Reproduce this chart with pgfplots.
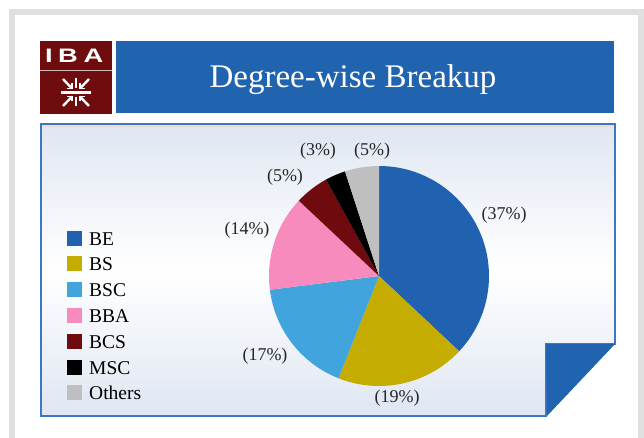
\documentclass[border=0pt]{standalone}
\usepackage{fontspec}
\setmainfont{Liberation Serif}
\newfontfamily\logofont{Liberation Sans}
\usepackage{graphicx}
\usepackage{pgfplots}
\usepackage{pgfplotstable}
\pgfplotsset{compat=1.18}
\definecolor{pie0}{HTML}{2062AF}
\definecolor{pie1}{HTML}{C4AD00}
\definecolor{pie2}{HTML}{41A4DC}
\definecolor{pie3}{HTML}{F78BBE}
\definecolor{pie4}{HTML}{6F0A0E}
\definecolor{pie5}{HTML}{000000}
\definecolor{pie6}{HTML}{BFBFBF}
\definecolor{banner}{HTML}{2063AF}
\definecolor{logored}{HTML}{6E0C0E}
\definecolor{frame}{HTML}{E0E0E0}
\definecolor{panelbg}{HTML}{DFE6F2}
\definecolor{panelline}{HTML}{3D76C2}
\definecolor{beige}{HTML}{EFDDD3}

\pgfplotstableread{
name value lx ly
BE 37 125 61
BS 19 18 -122
BSC 17 -114 -80
BBA 14 -132 46
BCS 5 -94 99
MSC 3 -61 125
Others 5 -7 125
}\piedata

\begin{document}
\begin{tikzpicture}[x=1pt,y=1pt]
\path[use as bounding box, fill=white] (0,0) rectangle (644,-438);
\fill[frame] (9,-9) rectangle (644,-438);
\fill[white] (15,-15) rectangle (638,-438);
% logo
\fill[logored] (40,-41) rectangle (112,-114);
\draw[white!70!logored, line width=1pt] (40,-70.5) -- (112,-70.5);
\foreach \l/\xx in {I/49, B/68, A/93.5}
  \node[text=white, font=\logofont\bfseries\fontsize{19.5}{20}\selectfont, inner sep=0pt, anchor=base] at (\xx,-63) {\scalebox{1.4}[1]{\l}};
\begin{scope}[white, line width=2.4pt]
 \draw (61,-92.5) -- (91,-92.5);
 \draw (76,-78) -- (76,-88);
 \draw (76,-97) -- (76,-106);
 \draw (63,-79) -- (72,-88.5);
 \draw (89,-79) -- (80,-88.5);
 \draw (63,-106) -- (72,-96.5);
 \draw (89,-106) -- (80,-96.5);
 \draw[line width=1.8pt] (67,-88.5) -- (72,-88.5) -- (72,-83.5);
 \draw[line width=1.8pt] (85,-88.5) -- (80,-88.5) -- (80,-83.5);
 \draw[line width=1.8pt] (67,-96.5) -- (72,-96.5) -- (72,-101.5);
 \draw[line width=1.8pt] (85,-96.5) -- (80,-96.5) -- (80,-101.5);
\end{scope}
% banner
\fill[banner] (116,-41) rectangle (614,-113);
\node[text=white, anchor=base, font=\fontsize{33}{36}\selectfont, inner sep=0pt] at (353,-88) {Degree-wise Breakup};
% panel
\shade[top color=panelbg, bottom color=panelbg, middle color=white] (41,-124) -- (615,-124) -- (615,-344) -- (546,-344) -- (546,-416) -- (41,-416) -- cycle;
\draw[beige, line width=2pt] (42,-126.5) -- (614,-126.5);
\draw[panelline, line width=1.3pt] (41,-124) -- (615,-124) -- (615,-344) -- (546,-344) -- (546,-416) -- (41,-416) -- cycle;
\fill[banner] (546,-344) -- (615,-344) -- (547,-416) -- cycle;
% pie
\begin{axis}[at={(379pt,-276pt)}, anchor=origin, x=1pt, y=1pt,
  xmin=-120, xmax=120, ymin=-120, ymax=120, hide axis, clip=false,
  legend style={at={(-0.80,0.69)}, anchor=north west, draw=none, fill=none,
    font=\fontsize{19.5}{20}\selectfont, cells={anchor=west},
    row sep=8.3pt, column sep=7pt, inner sep=0pt,
    nodes={inner sep=0pt, text height=13pt, text depth=3pt}},
  legend image code/.code={\fill[#1, draw=none] (0pt,-5.5pt) rectangle (15pt,9.5pt);},
]
\pgfmathsetmacro\startang{90}
\pgfplotsforeachungrouped \i in {0,...,6}{%
  \pgfplotstablegetelem{\i}{value}\of\piedata
  \let\val\pgfplotsretval
  \pgfplotstablegetelem{\i}{lx}\of\piedata
  \let\lx\pgfplotsretval
  \pgfplotstablegetelem{\i}{ly}\of\piedata
  \let\ly\pgfplotsretval
  \pgfmathsetmacro\endang{\startang-3.6*\val}
  \edef\temp{\noexpand\fill[pie\i] (axis cs:0,0) -- ++(\startang:110pt) arc[start angle=\startang, end angle=\endang, radius=110pt] -- cycle;
     \noexpand\node[font=\noexpand\fontsize{18}{20}\noexpand\selectfont, text=black!85] at (axis cs:\lx,\ly) {(\val\noexpand\%)};}%
  \temp
  \global\let\startang\endang
}
\addlegendimage{fill=pie0}\addlegendentry{BE}
\addlegendimage{fill=pie1}\addlegendentry{BS}
\addlegendimage{fill=pie2}\addlegendentry{BSC}
\addlegendimage{fill=pie3}\addlegendentry{BBA}
\addlegendimage{fill=pie4}\addlegendentry{BCS}
\addlegendimage{fill=pie5}\addlegendentry{MSC}
\addlegendimage{fill=pie6}\addlegendentry{Others}
\end{axis}
\end{tikzpicture}
\end{document}
